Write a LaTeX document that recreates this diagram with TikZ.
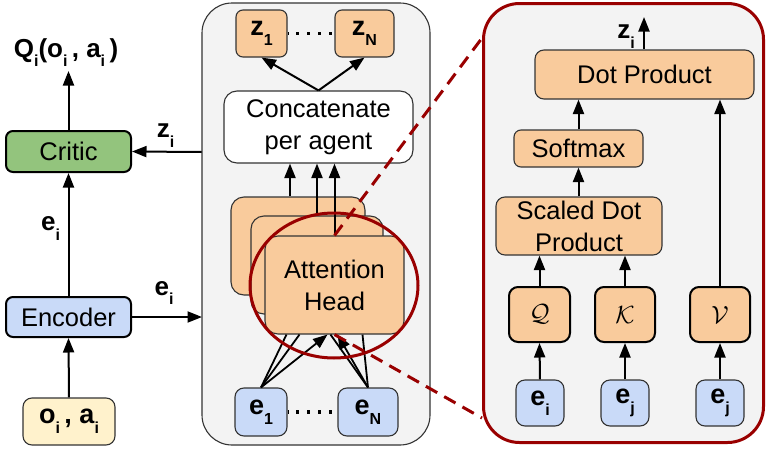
\documentclass[tikz,border=0pt]{standalone}
\usepackage{fontspec}
\setmainfont{Liberation Sans}
\usetikzlibrary{arrows.meta,shapes.geometric}

\definecolor{critgreen}{HTML}{93C47D}
\definecolor{encblue}{HTML}{C9DAF8}
\definecolor{inyellow}{HTML}{FFF2CC}
\definecolor{headorange}{HTML}{F9CB9C}
\definecolor{panelgray}{HTML}{F3F3F3}
\definecolor{zoomred}{HTML}{990000}
\definecolor{edge}{HTML}{333333}

% lowered index in bold labels
\newcommand\lowidx[1]{\raisebox{-0.36em}{\fontsize{16}{16}\selectfont #1}}

\tikzset{
  base/.style={rounded corners=7pt, inner sep=0pt, align=center,
    font=\fontsize{25.5}{32}\selectfont},
  thinbox/.style={base, draw=edge, line width=1.1pt},
  boldbox/.style={base, draw=black, line width=2pt},
  orangebox/.style={thinbox, fill=headorange},
  qkvbox/.style={boldbox, fill=headorange, rounded corners=9pt},
  bluebox/.style={thinbox, fill=encblue},
  headbox/.style={orangebox, rounded corners=13pt, minimum width=136pt, minimum height=98pt},
  lab/.style={inner sep=0pt, font=\fontsize{26}{26}\selectfont\bfseries},
  boxlab/.style={font=\fontsize{27}{27}\selectfont\bfseries},
  arr/.style={line width=2pt, -{Triangle[length=14.5pt,width=11pt]}},
  link/.style={line width=1.8pt},
  dots/.style={line width=3.2pt, dash pattern=on 3pt off 8pt, dash phase=2.5pt},
  zoomline/.style={zoomred, line width=3pt, dash pattern=on 13pt off 8pt},
}

\begin{document}
\begin{tikzpicture}[x=1pt, y=-1pt]
\useasboundingbox (0,0) rectangle (766,450);

% ---------- left column: encoder and critic ----------
\node[boldbox, fill=critgreen, minimum width=125pt, minimum height=41pt] (critic) at (68.5,151.5) {Critic};
\node[boldbox, fill=encblue, minimum width=125pt, minimum height=40pt] (encoder) at (68.5,317) {Encoder};
\node[thinbox, fill=inyellow, minimum width=92pt, minimum height=47pt, rounded corners=9pt,
      boxlab] (input) at (69,421.5) {o\lowidx{i}\,, a\lowidx{i}};
\node[lab, anchor=base] (qval) at (66,57) {Q\lowidx{i}(o\lowidx{i}\,, a\lowidx{i}\,)};
\coordinate (qtip) at (68.5,71);
\coordinate (encout) at (202,317);
\coordinate (zin) at (202,152);

\draw[arr] (input.north) -- (encoder.south);
\draw[arr] (encoder.north) -- (critic.south) node[lab, midway, xshift=-18pt, yshift=6pt] (elab1) {e\lowidx{i}};
\draw[arr] (critic.north) -- (qtip);
\draw[arr] (encoder.east) -- (encout) node[lab, pos=0.46, yshift=24pt] (elab2) {e\lowidx{i}};
\draw[arr] (zin) -- (critic.east) node[lab, pos=0.52, yshift=16pt] (zlab) {z\lowidx{i}};

% ---------- middle panel: multi-head attention ----------
\node[draw=edge, line width=1.1pt, fill=panelgray, rounded corners=30pt, inner sep=0pt,
      minimum width=228pt, minimum height=442pt] (midpanel) at (316,224) {};

\node[orangebox, minimum width=51pt, minimum height=47pt, boxlab] (z1) at (261.5,33.5)
  {z\lowidx{1}};
\node[orangebox, minimum width=59pt, minimum height=47pt, boxlab] (zN) at (364.5,33.5)
  {z\lowidx{N}};
\draw[dots] (z1.east) -- (zN.west);

\node[thinbox, fill=white, rounded corners=13pt, minimum width=189pt, minimum height=72pt] (concat)
  at (318.5,127) {Concatenate\\per agent};
\draw[arr] (concat.north) -- (z1.south);
\draw[arr] (concat.north) -- (zN.south);

\node[headbox, minimum width=134pt] (head1) at (298,246) {};
\node[headbox, minimum width=132pt] (head2) at (317,265) {};
\node[headbox, minimum width=139pt] (head3) at (334.5,285) {Attention\\Head};

\draw[arr] ([xshift=-8pt]head1.north) -- ([xshift=-8pt]head1.north |- concat.south);
\draw[arr] (head2.north) -- (head2.north |- concat.south);
\draw[arr] (head3.north) -- (head3.north |- concat.south);

\node[bluebox, minimum width=52pt, minimum height=48pt, rounded corners=9pt, boxlab] (e1) at (261,412)
  {e\lowidx{1}};
\node[bluebox, minimum width=60pt, minimum height=48pt, rounded corners=9pt, boxlab] (eN) at (368,412)
  {e\lowidx{N}};
\draw[dots] (e1.east) -- (eN.west);

\draw[link] (e1.north) -- ([xshift=-48pt]head3.south);
\draw[link] (e1.north) -- ([xshift=-35pt]head3.south);
\draw[link] (eN.north) -- ([xshift=28pt]head3.south);
\draw[link] (eN.north) -- ([xshift=-4pt]head3.south);
\draw[arr, line width=1.8pt] (e1.north) -- ([xshift=-7pt]head3.south);
\draw[arr, line width=1.8pt] (eN.north) -- ([xshift=3pt]head3.south);

% ---------- right panel: inside one attention head ----------
\node[draw=zoomred, line width=3pt, fill=panelgray, rounded corners=36pt, inner sep=0pt,
      minimum width=280pt, minimum height=439pt] (rpanel) at (623.5,223) {};

\coordinate (zoomtop) at (rpanel.west |- 0,38);
\coordinate (zoombot) at (rpanel.west |- 0,418);

\node[orangebox, minimum width=219pt, minimum height=49pt, rounded corners=9pt] (dot) at (644.5,74.5) {Dot Product};
\node[orangebox, minimum width=129pt, minimum height=37pt] (softmax) at (578.5,148.5) {Softmax};
\node[orangebox, minimum width=166pt, minimum height=58pt, rounded corners=9pt] (sdp) at (579,226) {Scaled Dot\\Product};

\node[qkvbox, minimum width=61pt, minimum height=55pt] (qbox) at (539.5,314.5) {$\mathcal{Q}$};
\node[qkvbox, minimum width=60pt, minimum height=55pt] (kbox) at (625,314.5) {$\mathcal{K}$};
\node[qkvbox, minimum width=60pt, minimum height=55pt] (vbox) at (720,314.5) {$\mathcal{V}$};

\node[bluebox, minimum width=48pt, minimum height=46pt, rounded corners=9pt, boxlab] (ei) at (540,403)
  {e\lowidx{i}};
\node[bluebox, minimum width=48pt, minimum height=46pt, rounded corners=9pt, boxlab] (ej) at (625,403)
  {e\lowidx{j}};
\node[bluebox, minimum width=48pt, minimum height=46pt, rounded corners=9pt, boxlab] (ejv) at (720,403)
  {e\lowidx{j}};

\coordinate (zout) at (644,17);
\draw[arr] (dot.north -| zout) -- (zout) node[lab, pos=0.4, xshift=-18pt] (zilab) {z\lowidx{i}};
\draw[arr] (softmax.north) -- (softmax.north |- dot.south);
\draw[arr] (sdp.north -| softmax.north) -- (softmax.south);
\draw[arr] (qbox.north) -- (qbox.north |- sdp.south);
\draw[arr] (kbox.north) -- (kbox.north |- sdp.south);
\draw[arr] (vbox.north) -- (vbox.north |- dot.south);
\draw[arr] (ei.north) -- (qbox.south);
\draw[arr] (ej.north) -- (kbox.south);
\draw[arr] (ejv.north) -- (vbox.south);

% ---------- zoom marker ----------
\node[draw=zoomred, line width=3pt, ellipse, minimum width=168pt, minimum height=145pt, inner sep=0pt]
  (lens) at (334,285.5) {};
\draw[zoomline] (head3.north) -- (zoomtop);
\draw[zoomline] (head3.south) -- (zoombot);
\end{tikzpicture}
\end{document}
